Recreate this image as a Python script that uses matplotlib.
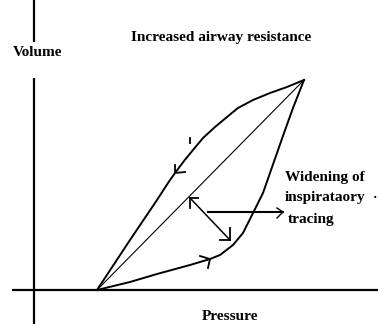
"""Pressure-volume loop sketch: increased airway resistance."""

import matplotlib

matplotlib.use("Agg")
import matplotlib.pyplot as plt

# coordinates: pressure to the right of the volume axis, volume above the pressure axis
loop_start = (63, 0)
loop_tip = (270, 210)

# expiratory limb (upper, bowed)
exp_p = [270, 253, 236, 219, 204, 193, 181, 169, 159, 150, 141, 134, 123, 96, 63]
exp_v = [210, 203, 197, 190, 182, 173, 163, 152, 140, 129, 117, 107, 90, 50, 0]

# inspiratory limb (lower, widened)
insp_p = [63, 96, 123, 156, 176, 186, 199, 209, 219, 229, 236, 243, 250, 259, 270]
insp_v = [0, 8, 16, 25, 31, 35, 45, 57, 77, 97, 117, 137, 157, 182, 210]

# arrowheads drawn as two short arms: tip, arm1, arm2
exp_head = [(141, 117), (141, 125), (151, 118)]
insp_head = [(176, 31), (166, 34), (174, 22)]
tick = [(156, 147), (156, 152)]

width_arrow = [(156, 92), (196, 50)]
width_heads = [
    [(156, 92), (164, 92), (156, 82)],
    [(196, 50), (186, 50), (196, 62)],
]
label_arrow = [(174, 78), (249, 78)]
label_head = [(249, 78), (243, 82), (243, 72)]

vol_axis_segments = [(248, 290), (-34, 212)]
press_axis = (-22, 344)

title = "Increased airway resistance"
x_label = "Pressure"
y_label = "Volume"
note_lines = ["Widening of", "inspirataory", "tracing"]
note_pos = [(251, 113), (251, 93), (254, 70)]

font = dict(family=["Liberation Serif", "DejaVu Serif"], fontweight="bold", color="black")

fig = plt.figure(figsize=(3.78, 3.24), dpi=100)
ax = fig.add_axes([0, 0, 1, 1])
ax.set_xlim(-34, 344)
ax.set_ylim(-34, 290)
ax.axis("off")

# axes of the sketch
for lo, hi in vol_axis_segments:
    ax.plot([0, 0], [lo, hi], color="black", lw=1.6, solid_capstyle="butt")
ax.plot(list(press_axis), [0, 0], color="black", lw=1.6, solid_capstyle="butt")

# loop
ax.plot(exp_p, exp_v, color="black", lw=1.4, solid_joinstyle="round")
ax.plot(insp_p, insp_v, color="black", lw=1.4, solid_joinstyle="round")
ax.plot([loop_start[0], loop_tip[0]], [loop_start[1], loop_tip[1]], color="black", lw=0.8)


def draw_head(head, lw):
    tip, a, b = head
    ax.plot([a[0], tip[0], b[0]], [a[1], tip[1], b[1]], color="black", lw=lw,
            solid_joinstyle="miter")


draw_head(exp_head, 1.3)
draw_head(insp_head, 1.3)
ax.plot(*zip(*tick), color="black", lw=1.3)

ax.plot(*zip(*width_arrow), color="black", lw=1.1)
for h in width_heads:
    draw_head(h, 1.3)
ax.plot(*zip(*label_arrow), color="black", lw=1.5)
draw_head(label_head, 1.0)

# text
ax.text(187, 253, title, ha="center", va="center", fontsize=11, **font)
ax.text(3.5, 237, y_label, ha="center", va="center", fontsize=11, **font)
ax.text(196, -26, x_label, ha="center", va="center", fontsize=11, **font)
for line, (p, v) in zip(note_lines, note_pos):
    ax.text(p, v, line, ha="left", va="center", fontsize=11, **font)
ax.text(341, 92, "·", ha="center", va="center", fontsize=10, **font)

fig.savefig("out.png", dpi=100, facecolor="white")
